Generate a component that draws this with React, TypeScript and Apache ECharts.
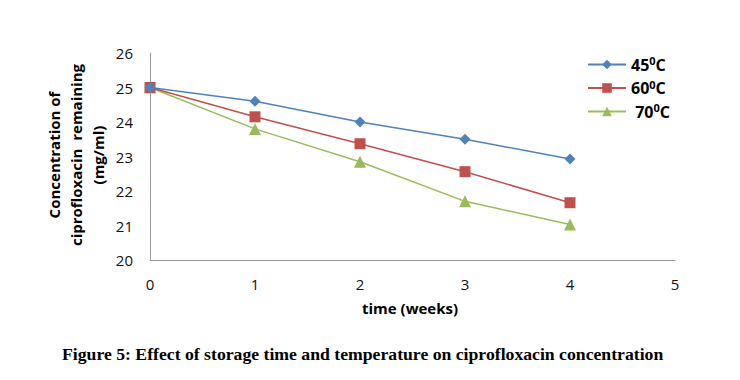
import React, { useEffect, useRef } from "react";
import * as echarts from "echarts";

const weeks = [0, 1, 2, 3, 4];
const seriesNames = ["45", "60", "70"];
const conc45 = [25.0, 24.6, 24.0, 23.5, 22.93];
const conc60 = [25.0, 24.15, 23.37, 22.56, 21.66];
const conc70 = [25.0, 23.8, 22.85, 21.7, 21.03];
const colors = ["#4F81BD", "#C0504D", "#9BBB59"];
const symbols = ["diamond", "rect", "triangle"];
const symbolSizes = [11, 11, 12];
const yTicks = { min: 20, max: 26, interval: 1 };
const xTicks = { min: 0, max: 5, interval: 1 };

export default function App() {
  const ref = useRef<HTMLDivElement>(null);
  useEffect(() => {
    if (!ref.current) return;
    const chart = echarts.init(ref.current, null, { renderer: "svg" });
    const all = [conc45, conc60, conc70];
    const font = "'Open Sans', 'Noto Sans', sans-serif";
    chart.setOption({
      animation: false,
      grid: { left: 150, right: 65, top: 53, bottom: 120 },
      xAxis: {
        type: "value",
        min: xTicks.min,
        max: xTicks.max,
        interval: xTicks.interval,
        axisLine: { show: true, lineStyle: { color: "#9a9a9a", width: 1 } },
        axisTick: { show: false },
        splitLine: { show: false },
        axisLabel: { color: "#111", fontSize: 15, fontFamily: font, margin: 16 },
      },
      yAxis: {
        type: "value",
        min: yTicks.min,
        max: yTicks.max,
        interval: yTicks.interval,
        axisLine: { show: true, lineStyle: { color: "#9a9a9a", width: 1 } },
        axisTick: { show: false },
        splitLine: { show: false },
        axisLabel: { color: "#111", fontSize: 15, fontFamily: font, margin: 17 },
      },
      legend: {
        orient: "vertical",
        left: 582,
        top: 50,
        itemWidth: 38,
        itemHeight: 12,
        itemGap: 6,
        data: seriesNames.map((n) => n),
        formatter: (name: string) =>
          name === "70" ? `{n| ${name}}{s|0}{n|C}` : `{n|${name}}{s|0}{n|C}`,
        textStyle: {
          rich: {
            n: { fontSize: 16, fontWeight: "bold", color: "#000", fontFamily: font },
            s: { fontSize: 11, fontWeight: "bold", color: "#000", fontFamily: font, padding: [0, 0, 8, 0] },
          },
        },
      },
      series: all.map((vals, i) => ({
        name: seriesNames[i],
        type: "line",
        data: weeks.map((w, j) => [w, vals[j]]),
        symbol: symbols[i],
        symbolSize: symbolSizes[i],
        lineStyle: { color: colors[i], width: 1.5 },
        itemStyle: { color: colors[i] },
        z: 3 - i,
      })),
      graphic: [
        {
          type: "text",
          x: 76,
          y: 155,
          rotation: Math.PI / 2,
          style: {
            text: "Concentration of\nciprofloxacin  remaining\n(mg/ml)",
            fontSize: 15,
            fontWeight: "bold",
            fontFamily: font,
            fill: "#000",
            align: "center",
            verticalAlign: "middle",
            lineHeight: 22,
          },
        },
        {
          type: "text",
          left: 362,
          top: 300,
          style: {
            text: "time (weeks)",
            fontSize: 15,
            fontWeight: "bold",
            fontFamily: font,
            fill: "#000",
          },
        },
        {
          type: "text",
          left: 62,
          top: 345,
          style: {
            text: "Figure 5: Effect of storage time and temperature on ciprofloxacin concentration",
            fontSize: 17.7,
            fontWeight: "bold",
            fontFamily: "'Liberation Serif', 'Times New Roman', serif",
            fill: "#000",
          },
        },
      ],
    });
    return () => chart.dispose();
  }, []);
  return <div ref={ref} style={{ width: 740, height: 380, position: "absolute", left: 0, top: 0 }} />;
}
